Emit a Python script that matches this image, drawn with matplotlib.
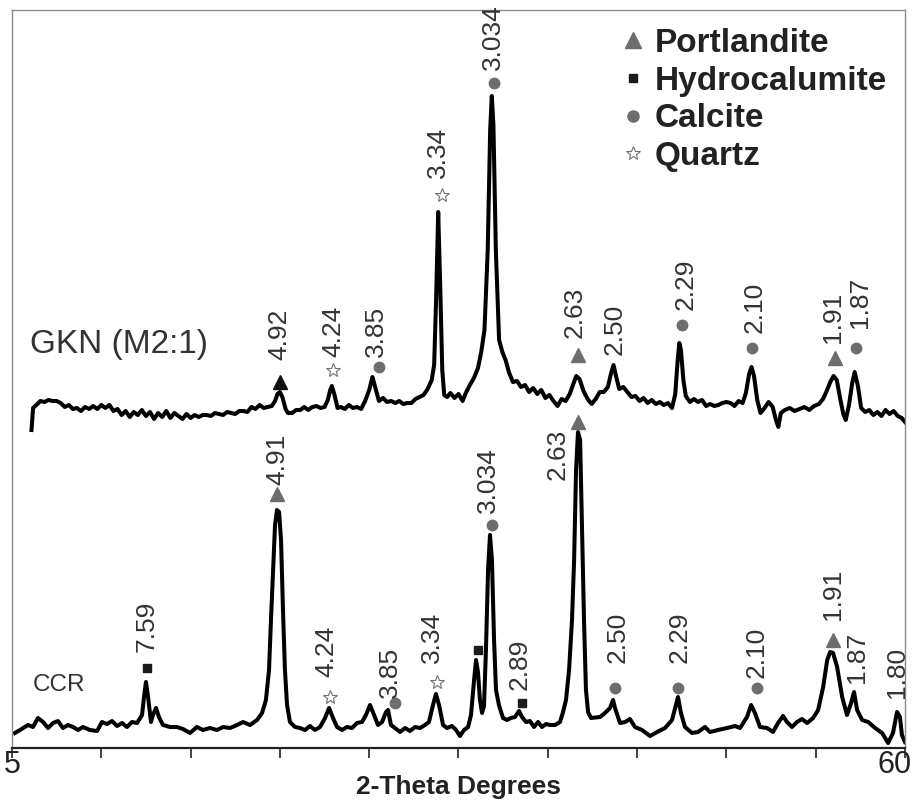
import numpy as np
import matplotlib
matplotlib.use("Agg")
import matplotlib.pyplot as plt
import matplotlib.transforms as mtransforms
from matplotlib.lines import Line2D

plt.rcParams['font.family'] = ['Liberation Sans', 'DejaVu Sans']

# XRD scans (2-theta, counts in arbitrary units, GKN offset above CCR)
gkn_tt = [6.2, 6.3, 6.5, 6.75, 7.0, 7.25, 7.5, 7.75, 8.0, 8.25,
          8.5, 8.75, 9.0, 9.25, 9.5, 9.75, 10.0, 10.25, 10.5, 10.75,
          11.0, 11.25, 11.5, 11.75, 12.0, 12.25, 12.5, 12.75, 13.0, 13.25,
          13.5, 13.75, 14.0, 14.25, 14.5, 14.75, 15.0, 15.25, 15.5, 15.75,
          16.0, 16.25, 16.5, 16.75, 17.0, 17.25, 17.5, 17.75, 18.0, 18.25,
          18.5, 18.75, 19.0, 19.25, 19.5, 19.75, 20.0, 20.25, 20.5, 20.75,
          21.0, 21.2, 21.35, 21.5, 21.65, 21.85, 22.0, 22.25, 22.5, 22.75,
          23.0, 23.25, 23.5, 23.75, 24.0, 24.25, 24.45, 24.6, 24.7, 24.85,
          25.05, 25.25, 25.5, 25.75, 26.0, 26.25, 26.5, 26.75, 27.0, 27.2,
          27.4, 27.6, 27.85, 28.1, 28.35, 28.6, 28.85, 29.1, 29.35, 29.6,
          29.85, 30.1, 30.35, 30.6, 30.85, 31.0, 31.12, 31.25, 31.38, 31.5,
          31.62, 31.8, 32.0, 32.25, 32.5, 32.75, 32.95, 33.2, 33.45, 33.7,
          33.9, 34.1, 34.3, 34.45, 34.55, 34.65, 34.8, 35.0, 35.2, 35.4,
          35.6, 35.85, 36.1, 36.35, 36.6, 36.85, 37.1, 37.35, 37.6, 37.85,
          38.1, 38.35, 38.6, 38.85, 39.1, 39.35, 39.55, 39.75, 39.95, 40.2,
          40.45, 40.7, 40.95, 41.2, 41.45, 41.7, 41.9, 42.05, 42.2, 42.4,
          42.65, 42.9, 43.15, 43.4, 43.65, 43.9, 44.15, 44.4, 44.65, 44.9,
          45.15, 45.4, 45.65, 45.85, 46.0, 46.1, 46.2, 46.35, 46.5, 46.75,
          47.0, 47.25, 47.5, 47.75, 48.0, 48.25, 48.5, 48.75, 49.0, 49.25,
          49.5, 49.75, 50.0, 50.2, 50.4, 50.55, 50.7, 50.9, 51.1, 51.35,
          51.6, 51.85, 52.05, 52.2, 52.35, 52.6, 52.9, 53.2, 53.5, 53.8,
          54.1, 54.4, 54.7, 54.95, 55.15, 55.4, 55.6, 55.8, 56.0, 56.2,
          56.35, 56.55, 56.75, 56.9, 57.1, 57.3, 57.55, 57.8, 58.05, 58.3,
          58.55, 58.8, 59.05, 59.3, 59.55, 59.8, 60.0]
gkn_int = [318, 340, 343, 347, 346, 348, 347, 347, 345, 341,
           343, 339, 340, 337, 341, 339, 342, 339, 343, 340,
           343, 337, 339, 333, 337, 331, 336, 333, 338, 332,
           336, 329, 335, 331, 337, 330, 335, 332, 329, 334,
           330, 333, 331, 333, 333, 332, 335, 334, 333, 336,
           335, 334, 337, 337, 336, 341, 339, 343, 340, 341,
           342, 347, 354, 356, 351, 339, 335, 335, 338, 338,
           341, 338, 341, 342, 340, 341, 348, 358, 362, 354,
           340, 341, 339, 343, 340, 341, 339, 347, 358, 371,
           359, 347, 350, 346, 347, 345, 347, 344, 345, 345,
           349, 351, 353, 359, 368, 383, 448, 536, 458, 378,
           353, 351, 355, 350, 354, 347, 355, 363, 370, 380,
           396, 418, 498, 618, 652, 623, 498, 408, 396, 388,
           376, 366, 367, 361, 363, 356, 360, 354, 358, 350,
           353, 347, 342, 349, 347, 354, 363, 372, 369, 357,
           349, 344, 349, 356, 356, 361, 375, 383, 372, 359,
           361, 356, 351, 352, 347, 350, 345, 348, 344, 346,
           343, 345, 340, 354, 388, 405, 398, 368, 352, 346,
           349, 346, 348, 342, 344, 342, 343, 345, 346, 345,
           342, 347, 345, 355, 374, 381, 372, 348, 335, 340,
           346, 341, 328, 321, 335, 338, 340, 337, 339, 341,
           338, 342, 344, 349, 356, 366, 372, 368, 350, 334,
           328, 343, 365, 376, 362, 340, 336, 338, 333, 336,
           332, 338, 334, 337, 332, 330, 326]

ccr_tt = [5.18, 5.49, 5.99, 6.29, 6.60, 6.91, 7.22, 7.53, 7.83, 8.14,
          8.45, 8.76, 9.07, 9.37, 9.80, 10.24, 10.54, 10.85, 11.16, 11.47,
          11.78, 12.08, 12.39, 12.70, 13.01, 13.13, 13.25, 13.38, 13.56, 13.68,
          13.87, 14.05, 14.30, 14.73, 15.16, 15.53, 15.96, 16.39, 16.76, 17.19,
          17.63, 18.00, 18.43, 18.86, 19.23, 19.66, 20.09, 20.40, 20.64, 20.83,
          20.95, 21.08, 21.20, 21.32, 21.45, 21.57, 21.69, 21.81, 21.94, 22.12,
          22.43, 22.74, 23.05, 23.35, 23.66, 23.97, 24.28, 24.53, 24.77, 25.02,
          25.33, 25.63, 25.94, 26.25, 26.56, 26.80, 27.05, 27.30, 27.54, 27.79,
          28.04, 28.16, 28.34, 28.59, 28.90, 29.21, 29.51, 29.82, 30.13, 30.44,
          30.68, 30.93, 31.11, 31.30, 31.55, 31.79, 32.10, 32.35, 32.59, 32.84,
          33.09, 33.27, 33.46, 33.58, 33.70, 33.82, 33.95, 34.07, 34.19, 34.32,
          34.44, 34.56, 34.69, 34.81, 34.99, 35.24, 35.49, 35.73, 35.98, 36.23,
          36.41, 36.66, 36.90, 37.15, 37.40, 37.64, 37.89, 38.14, 38.44, 38.75,
          38.94, 39.12, 39.31, 39.49, 39.62, 39.74, 39.86, 39.99, 40.11, 40.23,
          40.35, 40.48, 40.66, 41.22, 41.52, 41.83, 42.02, 42.14, 42.45, 42.76,
          43.06, 43.37, 43.80, 44.30, 44.73, 45.22, 45.65, 45.84, 46.02, 46.20,
          46.45, 46.88, 47.25, 47.68, 47.99, 48.48, 49.04, 49.53, 49.84, 50.27,
          50.52, 50.76, 51.07, 51.50, 51.87, 52.18, 52.49, 52.73, 53.04, 53.35,
          53.66, 53.97, 54.34, 54.65, 54.96, 55.21, 55.39, 55.57, 55.82, 56.13,
          56.43, 56.68, 56.86, 57.05, 57.36, 57.73, 58.16, 58.59, 58.96, 59.26,
          59.51, 59.69, 59.81, 60.0]
ccr_int = [15, 18, 23, 21, 30, 26, 20, 25, 27, 20,
           23, 21, 18, 21, 18, 17, 26, 24, 27, 22,
           25, 21, 26, 25, 33, 51, 66, 51, 26, 33,
           40, 31, 23, 21, 21, 19, 15, 21, 18, 20,
           18, 21, 20, 23, 26, 23, 28, 35, 48, 78,
           128, 178, 223, 238, 236, 208, 138, 78, 43, 26,
           21, 20, 18, 22, 18, 21, 30, 40, 30, 21,
           18, 21, 20, 25, 26, 33, 43, 33, 23, 26,
           36, 38, 23, 20, 16, 20, 17, 21, 20, 23,
           26, 43, 54, 43, 23, 20, 22, 18, 12, 18,
           21, 33, 68, 88, 76, 48, 35, 42, 98, 178,
           213, 188, 108, 58, 43, 30, 28, 30, 31, 37,
           31, 26, 27, 21, 26, 21, 24, 23, 23, 26,
           36, 48, 78, 128, 188, 278, 316, 308, 218, 128,
           58, 36, 30, 31, 35, 40, 48, 40, 25, 26,
           29, 21, 18, 12, 16, 20, 28, 40, 51, 35,
           21, 15, 16, 21, 16, 18, 20, 22, 20, 31,
           43, 35, 21, 20, 16, 25, 32, 26, 21, 26,
           29, 25, 30, 38, 61, 88, 96, 95, 81, 51,
           33, 45, 56, 38, 28, 26, 20, 15, 5, 15,
           36, 31, 13, 6]

# peak d-spacings and phases (P portlandite, H hydrocalumite, C calcite, Q quartz)
gkn_d = ["4.92", "4.24", "3.85", "3.34", "3.034", "2.63", "2.50", "2.29", "2.10", "1.91", "1.87"]
gkn_phase = ["Pk", "Q", "C", "Q", "C", "P", None, "C", "C", "P", "C"]
ccr_d = ["7.59", "4.91", "4.24", "3.85", "3.34", None, "3.034", "2.89", "2.63",
         "2.50", "2.29", "2.10", "1.91", "1.87", "1.80"]
ccr_phase = ["H", "P", "Q", "C", "Q", "H", "C", "H", "P", "C", "C", "C", "P", None, None]

# where the labels and symbols sit
gkn_text_at = [(21.44, 388), (24.77, 391), (27.42, 391), (31.24, 570), (34.63, 678), (39.68, 410),
               (42.14, 393), (46.51, 438), (50.76, 415), (55.57, 405), (57.23, 420)]
gkn_mark_at = [(21.5, 366), (24.77, 378), (27.6, 381), (31.48, 553), (34.69, 665), (39.86, 393),
               None, (46.27, 423), (50.58, 400), (55.69, 390), (56.98, 400)]
ccr_text_at = [(13.31, 96), (21.32, 263), (24.34, 71), (28.28, 50), (30.87, 85), None, (34.32, 235),
               (36.29, 58), (38.63, 268), (42.32, 85), (46.14, 85), (50.89, 70), (55.57, 128),
               (57.04, 65), (59.51, 50)]
ccr_mark_at = [(13.31, 80), (21.32, 254), (24.59, 51), (28.59, 45), (31.18, 66), (33.70, 98),
               (34.56, 223), (36.41, 45), (39.86, 326), (42.14, 60), (46.02, 60), (50.89, 60),
               (55.57, 108), None, None]

gray = '#6d6d6d'
styles = {
    'P': dict(marker='^', color=gray, ms=10),
    'Pk': dict(marker='^', color='#111111', ms=10),
    'H': dict(marker='s', color='#1a1a1a', ms=5.5),
    'C': dict(marker='o', color=gray, ms=7.5),
    'Q': dict(marker='*', mfc='white', mec='#707070', ms=10, mew=0.8),
}

fig = plt.figure(figsize=(9.17, 8.01), dpi=100)
ax = fig.add_axes([12 / 917, 1 - 748 / 801, 893 / 917, 738 / 801])
ax.set_xlim(5, 60)
ax.set_ylim(0, 738)

ax.plot(gkn_tt, gkn_int, color='black', lw=2.9, solid_joinstyle='round')
ax.plot(ccr_tt, ccr_int, color='black', lw=2.9, solid_joinstyle='round')

lab_kw = dict(rotation=90, ha='center', va='bottom', fontsize=19, color='#333333')
for d, ph, t, m in list(zip(gkn_d, gkn_phase, gkn_text_at, gkn_mark_at)) + \
        list(zip(ccr_d, ccr_phase, ccr_text_at, ccr_mark_at)):
    if d is not None:
        ax.text(t[0], t[1], d, **lab_kw)
    if ph is not None:
        ax.plot(m[0], m[1], ls='none', clip_on=False, **styles[ph])

ax.text(6.11, 403, "GKN (M2:1)", fontsize=24, color='#333333', va='center', ha='left')
ax.text(6.26, 63, "CCR", fontsize=17.5, color='#333333', va='center', ha='left')

# legend
handles = [Line2D([], [], ls='none', marker='^', color=gray, ms=11),
           Line2D([], [], ls='none', marker='s', color='#1a1a1a', ms=6),
           Line2D([], [], ls='none', marker='o', color=gray, ms=8),
           Line2D([], [], ls='none', marker='*', mfc='white', mec='#707070', ms=10, mew=0.8)]
ax.legend(handles, ["Portlandite", "Hydrocalumite", "Calcite", "Quartz"],
          loc='upper left', bbox_to_anchor=(620 / 917, 1 - 28 / 801), bbox_transform=fig.transFigure,
          frameon=False, prop=dict(weight='bold', size=24), labelcolor='#222222',
          handlelength=0.8, handletextpad=0.25, labelspacing=0.2, borderpad=0, borderaxespad=0)

# axes frame
for s in ['left', 'top', 'right']:
    ax.spines[s].set_color('#8a8a8a')
    ax.spines[s].set_linewidth(1.0)
ax.spines['bottom'].set_color('#222222')
ax.spines['bottom'].set_linewidth(1.6)

ticks = np.linspace(5, 60, 11)
ax.set_xticks(ticks)
ax.set_xticklabels(['5'] + [''] * 9 + ['60'])
ax.tick_params(axis='x', direction='out', length=7, width=1.2, labelsize=22, pad=-5.5, colors='#222222')
last = ax.get_xticklabels()[-1]
last.set_horizontalalignment('right')
last.set_transform(last.get_transform() + mtransforms.ScaledTranslation(7 / 100, 0, fig.dpi_scale_trans))
ax.set_yticks([])
ax.set_xlabel("2-Theta Degrees", fontsize=19, fontweight='bold', color='#222222', labelpad=-4)

fig.savefig("out.png", dpi=100)
